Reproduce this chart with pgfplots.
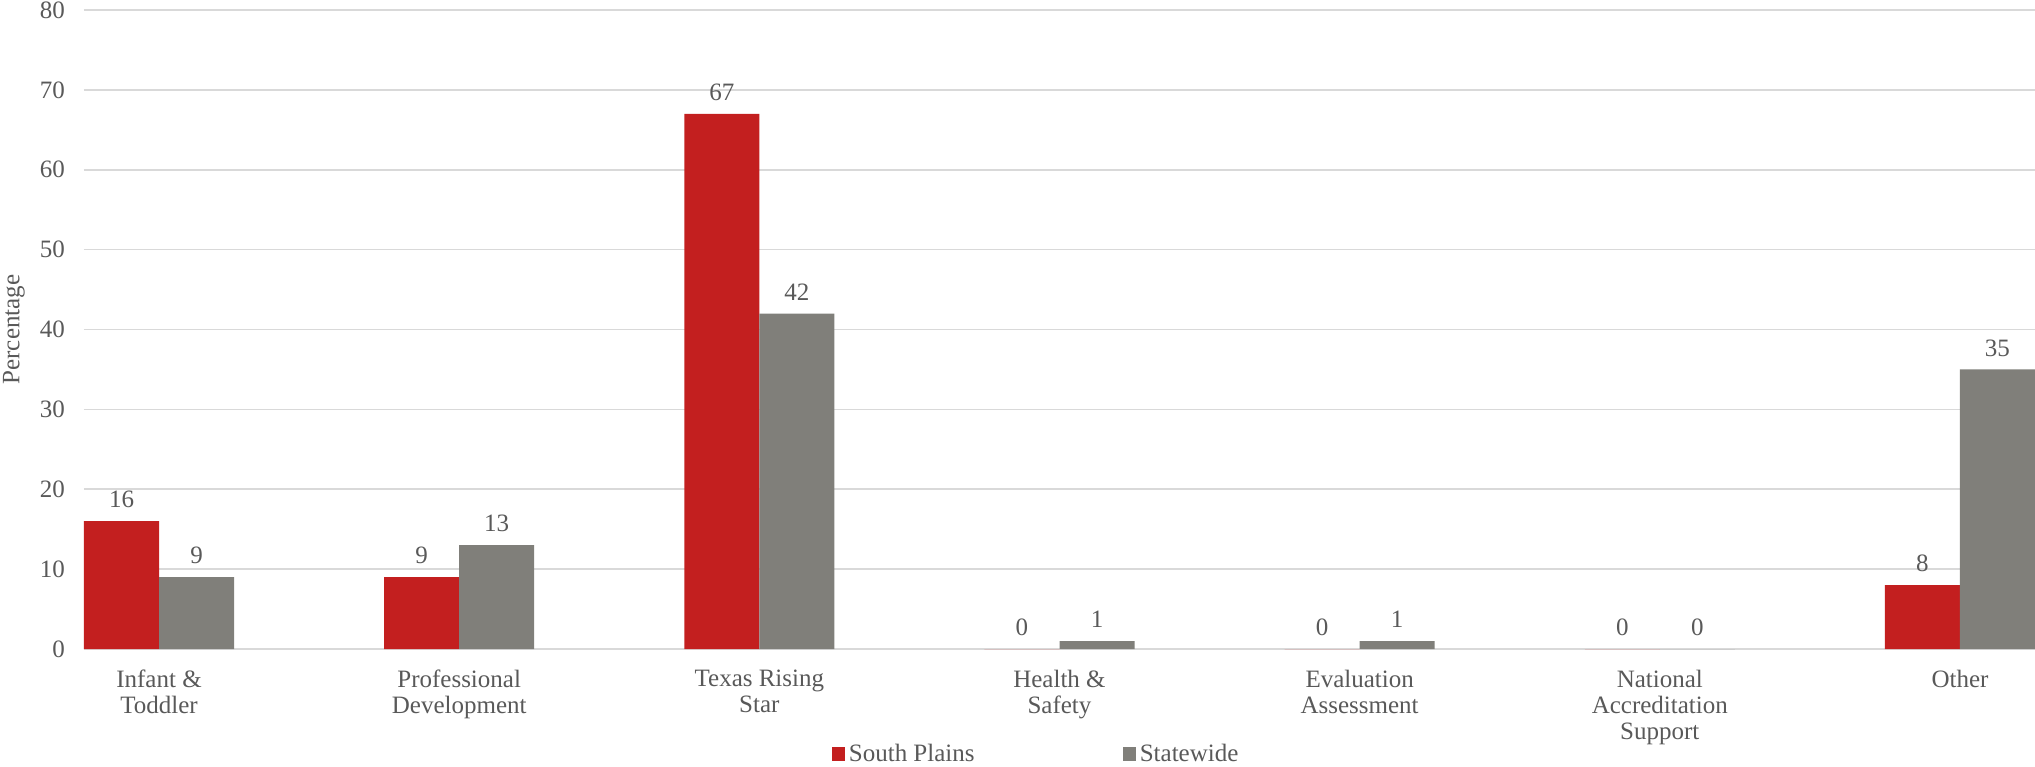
\documentclass[border=0pt]{standalone}
\usepackage{pgfplots}
\pgfplotsset{compat=1.18}
\usepackage{fontspec}
\setmainfont{Liberation Serif}
\definecolor{barred}{HTML}{C31F1F}
\definecolor{bargray}{HTML}{807F7A}
\definecolor{gridc}{HTML}{D9D9D9}
\definecolor{txt}{HTML}{595959}
\begin{document}
\begin{tikzpicture}
\begin{axis}[
  scale only axis,
  width=975.5bp, height=319.5bp,
  ybar=0pt, bar width=0.25,
  xmin=-0.25, xmax=6.25,
  ymin=0, ymax=80,
  ytick={0,10,...,80},
  xtick={0,1,2,3,4,5,6},
  xticklabels={Infant \&\\Toddler, Professional\\Development, Texas Rising\\Star, Health \&\\Safety, Evaluation\\Assessment, National\\Accreditation\\Support, Other},
  axis line style={draw=none},
  major tick length=0pt,
  ymajorgrids, grid style={gridc, line width=0.8bp},
  /pgf/number format/assume math mode=true,
  tick label style={font=\fontsize{12.5bp}{13bp}\selectfont, text=txt},
  xticklabel style={align=center, yshift=-7bp},
  yticklabel style={xshift=-6bp},
  ylabel={Percentage},
  ylabel style={at={(axis description cs:-0.0359,0.5)}, anchor=center, font=\fontsize{12.5bp}{13bp}\selectfont, text=txt},
  nodes near coords,
  every node near coord/.append style={font=\fontsize{12.5bp}{13bp}\selectfont, text=txt, yshift=3bp, /pgf/number format/assume math mode=true},
  legend style={at={(rel axis cs:0.4885,0)}, anchor=center, yshift=-52.5bp, draw=none, font=\fontsize{12.5bp}{13bp}\selectfont, text=txt, legend columns=2, /tikz/every even column/.append style={column sep=72bp}},
  legend image code/.code={\fill[#1] (0bp,-3.3bp) rectangle (6.6bp,3.3bp);},
]
\addplot[fill=barred, draw=none] coordinates {(0,16) (1,9) (2,67) (3,0) (4,0) (5,0) (6,8)};
\addplot[fill=bargray, draw=none] coordinates {(0,9) (1,13) (2,42) (3,1) (4,1) (5,0) (6,35)};
\legend{South Plains, Statewide}
\end{axis}
\pgfresetboundingbox
\path (-42bp,-59bp) rectangle (975.5bp,324.5bp);
\end{tikzpicture}
\end{document}
